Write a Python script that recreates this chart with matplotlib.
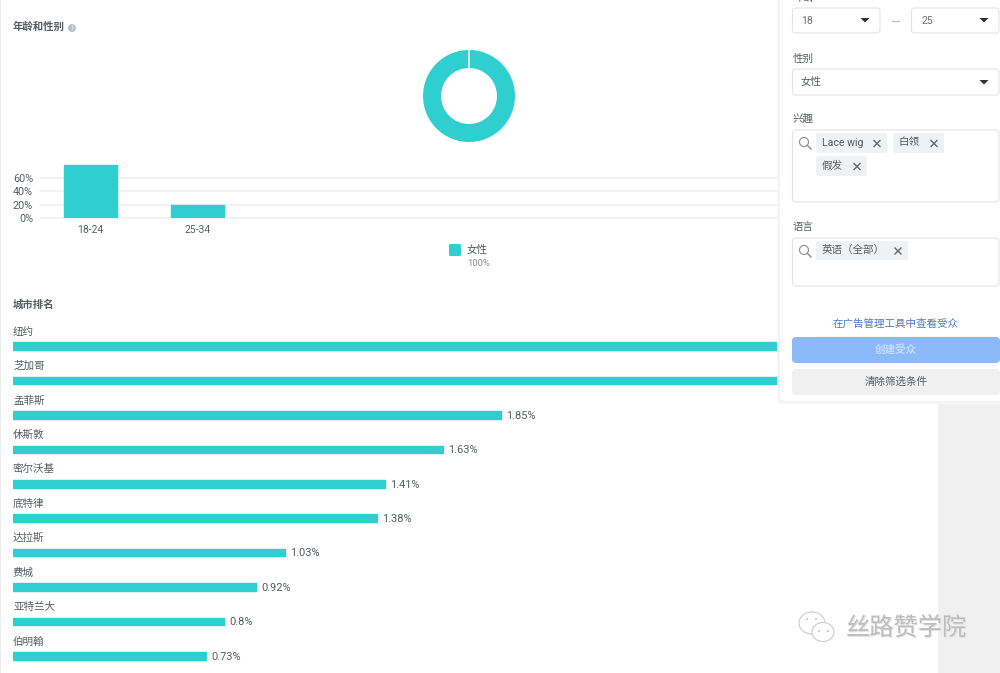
import matplotlib
matplotlib.use('Agg')
import matplotlib.pyplot as plt
from matplotlib.patches import Circle, Ellipse, FancyBboxPatch, Polygon, Rectangle

plt.rcParams['font.family'] = ['Roboto', 'Noto Sans CJK SC', 'DejaVu Sans']

W, H = 1000, 673
TEAL = '#30cfcf'
TXT = '#585c62'
GRID = '#eeeff1'

age_labels = ['18-24', '25-34']
age_values = [80, 20]
age_ticks = [0, 20, 40, 60]

donut_values = [100]

city_names = ['纽约', '芝加哥', '孟菲斯', '休斯敦', '密尔沃基', '底特律', '达拉斯', '费城', '亚特兰大', '伯明翰']
# the first two are hidden behind the panel, so their values are estimates
city_values = [3.1, 3.0, 1.85, 1.63, 1.41, 1.38, 1.03, 0.92, 0.8, 0.73]


def px_axes(fig, x0, y0, x1, y1, **kw):
    """axes placed by pixel box, y measured from the top"""
    return fig.add_axes([x0 / W, 1 - y1 / H, (x1 - x0) / W, (y1 - y0) / H], **kw)


def box(ax, x0, y0, x1, y1, fc='white', ec='none', r=3, lw=0.8, z=2):
    ax.add_patch(FancyBboxPatch((x0 + r, y0 + r), x1 - x0 - 2 * r, y1 - y0 - 2 * r,
                                boxstyle=f'round,pad={r},rounding_size={r}',
                                fc=fc, ec=ec, lw=lw, zorder=z))


def label(ax, x, y, s, size=7.6, color=TXT, ha='left', **kw):
    ax.text(x, y, s, fontsize=size, color=color, ha=ha, va='center', zorder=5, **kw)


def arrow(ax, x, y):
    ax.add_patch(Polygon([(x - 4.5, y - 2), (x + 4.5, y - 2), (x, y + 2.5)], fc='#333333', ec='none', zorder=4))


def search_icon(ax, x, y):
    ax.add_patch(Circle((x - 1, y - 1), 4.5, fc='none', ec='#8a8d91', lw=0.8, zorder=4))
    ax.plot([x + 2.5, x + 6], [y + 2.5, y + 6], color='#8a8d91', lw=1, zorder=4)


def chip(ax, x0, y0, x1, y1, s):
    box(ax, x0, y0, x1, y1, fc='#f0f1f2', r=2, z=3)
    label(ax, x0 + 6, (y0 + y1) / 2 - 0.5, s, size=7.6)
    cx, cy = x1 - 10, (y0 + y1) / 2 + 0.5
    ax.plot([cx - 3, cx + 3], [cy - 3, cy + 3], color='#666666', lw=1, zorder=4)
    ax.plot([cx - 3, cx + 3], [cy + 3, cy - 3], color='#666666', lw=1, zorder=4)


def plot_background(fig):
    ax = px_axes(fig, 0, 0, W, H, zorder=0)
    ax.set_xlim(0, W)
    ax.set_ylim(H, 0)
    ax.axis('off')
    ax.add_patch(Rectangle((938, 0), 62, H, fc='#f0f0f0', ec='none'))
    ax.add_patch(Rectangle((0, 0), 1, H, fc='#ececec', ec='none'))
    label(ax, 13, 27, '年龄和性别', weight='bold', size=7.5)
    ax.add_patch(Circle((72, 28), 4, fc='#bcc0c4', ec='none'))
    ax.text(72, 28, 'i', fontsize=5, color='white', ha='center', va='center', zorder=5)
    label(ax, 13, 305, '城市排名', weight='bold', size=7.5)
    box(ax, 449, 244, 461, 256, fc=TEAL, r=1.5)
    label(ax, 467, 250, '女性', size=7.6)
    label(ax, 467, 263, '100%', size=6.8, color='#8a8d91')


def plot_donut(fig):
    ax = px_axes(fig, 419, 46, 519, 146)
    ax.pie(donut_values, colors=[TEAL], startangle=90, radius=0.92,
           wedgeprops={'width': 0.36})
    # seam at the top of the ring
    ax.plot([0, 0], [0.5, 0.98], color='white', lw=1.1)
    ax.set_xlim(-1, 1)
    ax.set_ylim(-1, 1)


def plot_age(fig):
    ax = px_axes(fig, 40, 160, 925, 218)
    ax.patch.set_alpha(0)
    x = list(range(len(age_labels)))
    ax.bar(x, age_values, width=52.2 / 107, color=TEAL, edgecolor=TEAL, linewidth=1,
           joinstyle='round', zorder=3)
    ax.set_xlim((40 - 90.5) / 107, (925 - 90.5) / 107)
    ax.set_ylim(0, 58 / (40 / 60))
    ax.set_yticks(age_ticks)
    ax.set_yticklabels([f'{t}%' for t in age_ticks], fontsize=7.8, color=TXT)
    ax.set_xticks(x)
    ax.set_xticklabels(age_labels, fontsize=7.5, color=TXT)
    ax.yaxis.grid(True, color=GRID, linewidth=1.1)
    ax.set_axisbelow(True)
    ax.tick_params(length=0, pad=5)
    ax.tick_params(axis='x', pad=5)
    for s in ax.spines.values():
        s.set_visible(False)
    for line in ax.get_ygridlines():
        line.set_clip_on(False)


def plot_cities(fig):
    ax = px_axes(fig, 13, 329, 938, H)
    ax.patch.set_alpha(0)
    step = (656 - 346) / 9
    y = list(range(len(city_names)))
    ax.barh(y, city_values, height=7.6 / step, color=TEAL, edgecolor=TEAL, linewidth=1,
            joinstyle='round')
    ax.set_xlim(0, 925 / 263.8)
    ax.set_ylim((H - 346) / step, (329 - 346) / step)
    ax.axis('off')
    for i, name in enumerate(city_names):
        ax.annotate(name, (0, i), xytext=(0, 14.5 * 0.72), textcoords='offset points',
                    fontsize=7.6, color=TXT, va='center', annotation_clip=False)
        ax.annotate(f'{city_values[i]:g}%', (city_values[i], i), xytext=(5.5 * 0.72, -0.6),
                    textcoords='offset points', fontsize=7.9, color=TXT, va='center')


def plot_panel(fig):
    ax = px_axes(fig, 0, 0, W, H, zorder=6)
    ax.patch.set_alpha(0)
    ax.set_xlim(0, W)
    ax.set_ylim(H, 0)
    ax.axis('off')
    for grow, c in [(3, '#f8f8f8'), (1.5, '#f2f2f2')]:
        box(ax, 780 - grow, -12, 1012, 401 + grow, fc=c, r=6, z=1)
    box(ax, 780, -12, 1012, 401, r=5, z=1.5)

    edge = '#e3e4e7'
    label(ax, 793, -2, '年龄')
    box(ax, 792.5, 8, 880, 33, ec=edge)
    box(ax, 911.5, 8, 999, 33, ec=edge)
    label(ax, 801, 20.5, '18', size=7.6, color='#6d6a80')
    label(ax, 921, 20.5, '25', size=7.6, color='#6d6a80')
    ax.plot([892, 899], [20.5, 20.5], color='#c4c4c4', lw=1)
    arrow(ax, 865, 20)
    arrow(ax, 984, 20)

    label(ax, 793, 59, '性别')
    box(ax, 792.5, 69, 999, 95, ec=edge)
    label(ax, 801, 81.5, '女性')
    arrow(ax, 984, 82)

    label(ax, 793, 119, '兴趣')
    box(ax, 792.5, 130, 999, 202, ec=edge)
    search_icon(ax, 805, 143)
    chip(ax, 816, 133, 887, 153, 'Lace wig')
    chip(ax, 893, 133, 944, 153, '白领')
    chip(ax, 816, 156, 867, 176, '假发')

    label(ax, 793, 227, '语言')
    box(ax, 792.5, 238, 999, 286, ec=edge)
    search_icon(ax, 805, 251)
    chip(ax, 816, 241, 908, 260, '英语（全部）')

    label(ax, 896, 323.5, '在广告管理工具中查看受众', color='#4a7bc8', ha='center')
    box(ax, 792, 337, 1000, 363, fc='#8cbaf9', r=4)
    label(ax, 896, 349.5, '创建受众', color='#c4dbfb', ha='center', weight='bold')
    box(ax, 792, 369, 1000, 395, fc='#f0f0f0', r=4)
    label(ax, 896, 381.5, '清除筛选条件', ha='center')

    # watermark
    for dx, c in [(1, '#e2e2e2'), (0, '#bdbdbd')]:
        ax.text(846 + dx, 628 + dx, '丝路赞学院', fontsize=17.5, color=c, va='center', zorder=7)
    for cx, cy, rx, ry in [(812, 623, 13, 11), (823, 632, 11, 9.5)]:
        ax.add_patch(Ellipse((cx, cy), rx * 2, ry * 2, fc='white', ec='#cccccc', lw=0.8, zorder=7))
    for x, y in [(807, 619), (816, 619), (819, 631), (828, 631)]:
        ax.add_patch(Circle((x, y), 1, fc='#c4c4c4', ec='none', zorder=8))


def main():
    fig = plt.figure(figsize=(W / 100, H / 100), dpi=100)
    plot_background(fig)
    plot_donut(fig)
    plot_age(fig)
    plot_cities(fig)
    plot_panel(fig)
    fig.savefig('out.png', dpi=100)


if __name__ == '__main__':
    main()
